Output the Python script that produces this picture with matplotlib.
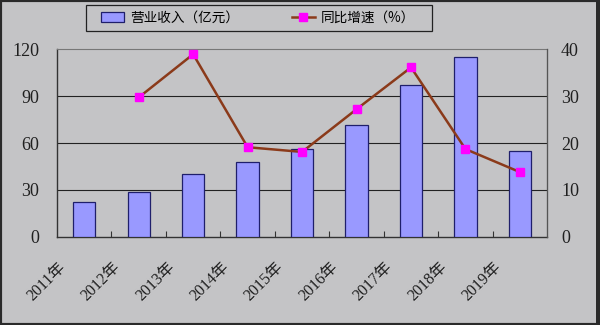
import matplotlib
matplotlib.use("Agg")
import matplotlib.pyplot as plt
from matplotlib.lines import Line2D
from matplotlib.patches import Patch, Rectangle
from matplotlib.transforms import ScaledTranslation

YEARS = ["2011年", "2012年", "2013年", "2014年", "2015年", "2016年", "2017年", "2018年", "2019年"]
REVENUE = [22.5, 28.5, 40.0, 47.7, 56.0, 71.3, 97.0, 115.0, 55.0]
GROWTH_YEARS = YEARS[1:]
GROWTH = [29.7, 38.9, 19.1, 18.1, 27.2, 36.1, 18.7, 13.8]
LEFT_TICKS = [0, 30, 60, 90, 120]
RIGHT_TICKS = [0, 10, 20, 30, 40]

BG = "#c4c4c6"
BAR = "#9999ff"
BAR_EDGE = "#1f1f6b"
LINE = "#8b3a1a"
MARKER = "#ff00ff"
INK = "#202020"

FONTS = ["Liberation Serif", "Noto Sans CJK SC", "DejaVu Sans"]
plt.rcParams["font.family"] = FONTS

fig = plt.figure(figsize=(6.0, 3.25), dpi=100, facecolor=BG)
ax = fig.add_axes([0.095, 0.271, 0.817, 0.578])
ax.set_facecolor(BG)

xs = list(range(len(YEARS)))
ax.bar(xs, REVENUE, width=0.41, color=BAR, edgecolor=BAR_EDGE, linewidth=0.9, zorder=3)
ax.set_ylim(0, 120)
ax.set_xlim(-0.5, len(YEARS) - 0.5)
ax.set_yticks(LEFT_TICKS)
for y in LEFT_TICKS[1:-1]:
    ax.axhline(y, color="#222222", lw=0.8, zorder=1)
ax.tick_params(axis="y", length=0, labelsize=13, colors=INK, pad=13)

# category boundary ticks
ax.set_xticks([i + 0.5 for i in xs[:-1]])
ax.set_xticklabels([])
ax.tick_params(axis="x", direction="in", length=4, color="#333333", width=0.8)

for side in ["left", "bottom"]:
    ax.spines[side].set_color("#333333")
    ax.spines[side].set_linewidth(1.0)
for side in ["top", "right"]:
    ax.spines[side].set_color("#777777")
    ax.spines[side].set_linewidth(0.8)

ax2 = ax.twinx()
gx = [YEARS.index(y) for y in GROWTH_YEARS]
ax2.plot(gx, GROWTH, color=LINE, lw=1.8, marker="s", ms=6,
         markerfacecolor=MARKER, markeredgecolor=MARKER, zorder=4)
ax2.set_ylim(0, 40)
ax2.set_yticks(RIGHT_TICKS)
ax2.tick_params(axis="y", length=0, labelsize=13, colors=INK, pad=10)
ax2.spines["right"].set_color("#555555")
ax2.spines["right"].set_linewidth(0.9)
for side in ["left", "top", "bottom"]:
    ax2.spines[side].set_visible(False)

# rotated year labels
offset = ScaledTranslation(-0.21, -0.28, fig.dpi_scale_trans)
for i, label in enumerate(YEARS):
    ax.text(i, 0, label, transform=ax.get_xaxis_transform() + offset,
            rotation=45, rotation_mode="anchor", ha="right", va="center",
            fontsize=11.5, color=INK)

handles = [
    Patch(facecolor=BAR, edgecolor=BAR_EDGE, linewidth=0.9, label="营业收入（亿元）"),
    Line2D([0], [0], color=LINE, lw=1.8, marker="s", ms=6,
           markerfacecolor=MARKER, markeredgecolor=MARKER, label="同比增速（%）"),
]
leg = fig.legend(handles=handles, loc="center", bbox_to_anchor=(0.43, 0.945),
                 ncol=2, frameon=False,
                 prop={"family": ["Noto Sans CJK SC", "DejaVu Sans"], "size": 9.8},
                 columnspacing=3.9, handlelength=1.7, handletextpad=0.4)

# legend box
fig.patches.append(Rectangle((86 / 600, 1 - 31 / 325), 346 / 600, 26 / 325,
                             transform=fig.transFigure, fill=False,
                             edgecolor="#222222", linewidth=0.9))

# outer frame
fig.patches.append(Rectangle((0, 0), 1, 1, transform=fig.transFigure, fill=False,
                             edgecolor="#2a2a2a", linewidth=3.0))
fig.patches.append(Rectangle((0.993, 0), 0.007, 1, transform=fig.transFigure,
                             facecolor="#2a2a2a", edgecolor="none"))

fig.savefig("out.png", dpi=100, facecolor=BG)
